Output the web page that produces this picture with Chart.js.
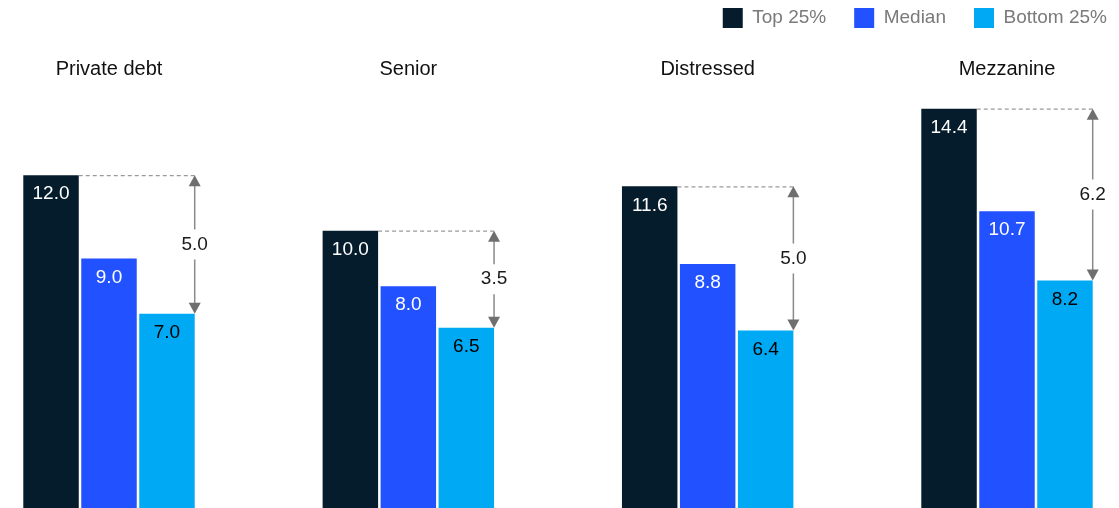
<!DOCTYPE html>
<html>
<head>
<meta charset="utf-8">
<script src="https://cdn.jsdelivr.net/npm/chart.js@4.4.1/dist/chart.umd.min.js"></script>
<style>
  html, body { margin: 0; padding: 0; background: #fff; }
  #wrap { width: 1119px; height: 508px; position: relative; }
</style>
</head>
<body>
<div id="wrap"><canvas id="chart"></canvas></div>
<script>
  const categories = ['Private debt', 'Senior', 'Distressed', 'Mezzanine'];
  const top25 = [12.0, 10.0, 11.6, 14.4];
  const median = [9.0, 8.0, 8.8, 10.7];
  const bottom25 = [7.0, 6.5, 6.4, 8.2];
  const spread = [5.0, 3.5, 5.0, 6.2];

  const FONT = '"Liberation Sans", Arial, sans-serif';

  // labels inside bars + spread arrows
  const annotate = {
    id: 'annotate',
    afterDatasetsDraw(chart) {
      const ctx = chart.ctx;
      ctx.save();
      ctx.font = '19px ' + FONT;
      ctx.textAlign = 'center';
      ctx.textBaseline = 'middle';
      chart.data.datasets.forEach((ds, di) => {
        chart.getDatasetMeta(di).data.forEach((bar, i) => {
          ctx.fillStyle = di === 2 ? '#000' : '#fff';
          ctx.fillText(ds.data[i].toFixed(1), bar.x, bar.y + 19);
        });
      });

      const topBars = chart.getDatasetMeta(0).data;
      const botBars = chart.getDatasetMeta(2).data;
      topBars.forEach((tb, i) => {
        const bb = botBars[i];
        const xr = bb.x + bb.width / 2;
        const y1 = tb.y, y2 = bb.y;
        // dashed guide
        ctx.strokeStyle = '#9a9a9a';
        ctx.lineWidth = 1.2;
        ctx.setLineDash([4, 3]);
        ctx.beginPath();
        ctx.moveTo(tb.x + tb.width / 2, y1 + 0.5);
        ctx.lineTo(xr, y1 + 0.5);
        ctx.stroke();
        ctx.setLineDash([]);
        // vertical arrow, gap for the label
        const mid = (y1 + y2) / 2;
        ctx.strokeStyle = '#8a8a8a';
        ctx.lineWidth = 1.5;
        ctx.beginPath();
        ctx.moveTo(xr, y1 + 8);
        ctx.lineTo(xr, mid - 15);
        ctx.moveTo(xr, mid + 15);
        ctx.lineTo(xr, y2 - 8);
        ctx.stroke();
        ctx.fillStyle = '#6f6f6f';
        ctx.beginPath();
        ctx.moveTo(xr, y1);
        ctx.lineTo(xr - 6, y1 + 11);
        ctx.lineTo(xr + 6, y1 + 11);
        ctx.closePath();
        ctx.fill();
        ctx.beginPath();
        ctx.moveTo(xr, y2);
        ctx.lineTo(xr - 6, y2 - 11);
        ctx.lineTo(xr + 6, y2 - 11);
        ctx.closePath();
        ctx.fill();
        ctx.fillStyle = '#1a1a1a';
        ctx.fillText(spread[i].toFixed(1), xr, mid);
      });
      ctx.restore();
    }
  };

  new Chart(document.getElementById('chart'), {
    type: 'bar',
    data: {
      labels: categories,
      datasets: [
        { label: 'Top 25%', data: top25, backgroundColor: '#051C2C' },
        { label: 'Median', data: median, backgroundColor: '#2251FF' },
        { label: 'Bottom 25%', data: bottom25, backgroundColor: '#00A9F4' }
      ]
    },
    options: {
      responsive: true,
      maintainAspectRatio: false,
      animation: false,
      layout: { padding: { top: -20, left: 0, right: -16, bottom: 0 } },
      datasets: { bar: { categoryPercentage: 0.581, barPercentage: 0.957, clip: false } },
      plugins: {
        legend: {
          position: 'top',
          align: 'end',
          labels: {
            boxWidth: 20,
            boxHeight: 20,
            padding: 28,
            color: '#7a7a7a',
            font: { family: FONT, size: 19 }
          }
        },
        tooltip: { enabled: false }
      },
      scales: {
        x: {
          position: 'top',
          offset: false,
          grid: { display: false, drawTicks: false },
          border: { display: false },
          ticks: { color: '#111', font: { family: FONT, size: 20 }, padding: 11, maxRotation: 0 },
          afterFit: (s) => { s.height = 54; }
        },
        y: {
          min: 0,
          max: 15,
          display: true,
          grid: { display: false, drawTicks: false },
          border: { display: false },
          ticks: { display: false },
          afterFit: (s) => { s.width = 109; }
        },
        yR: {
          position: 'right',
          display: true,
          grid: { display: false, drawTicks: false },
          border: { display: false },
          ticks: { display: false },
          afterFit: (s) => { s.width = 128; }
        }
      }
    },
    plugins: [annotate]
  });
</script>
</body>
</html>
